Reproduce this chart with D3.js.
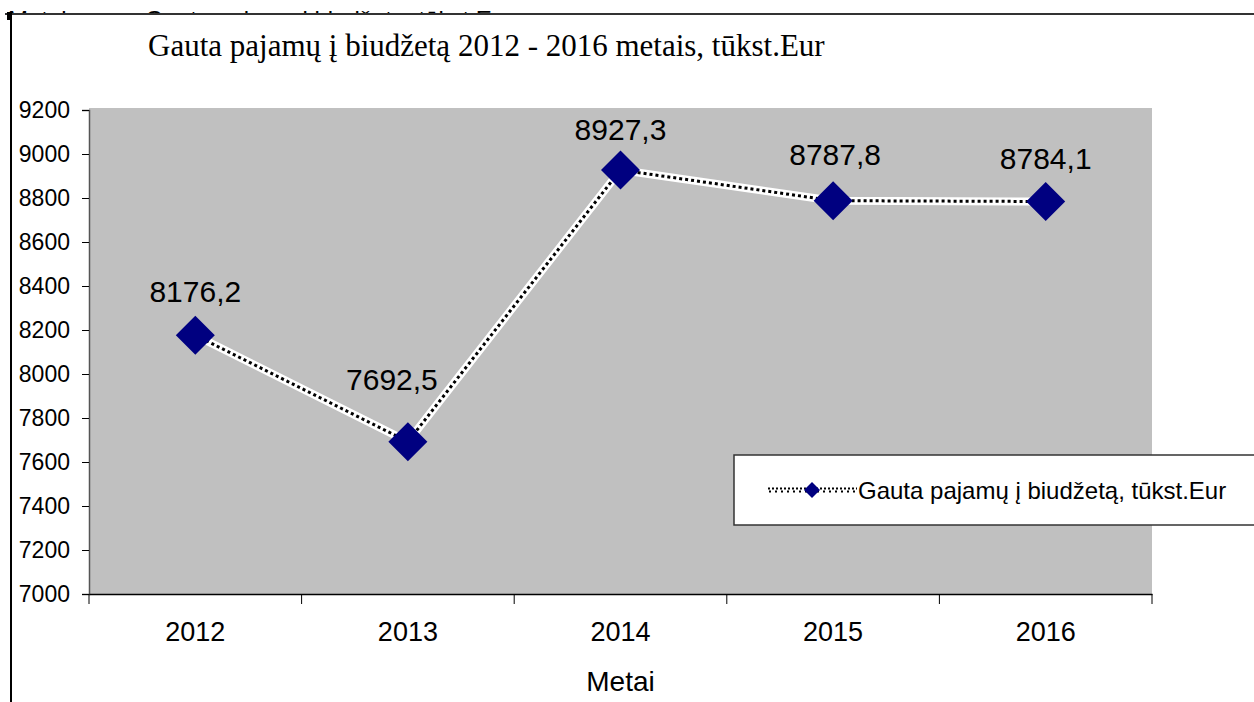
<!DOCTYPE html>
<html><head><meta charset="utf-8">
<script src="https://cdn.jsdelivr.net/npm/d3@7"></script>
<style>body{margin:0;background:#fff}svg{display:block}</style>
</head><body>
<svg id="c" width="1254" height="702"></svg>
<script>
const years = ["2012","2013","2014","2015","2016"];
const values = [8176.2, 7692.5, 8927.3, 8787.8, 8784.1];
const valueLabels = ["8176,2","7692,5","8927,3","8787,8","8784,1"];
const yTicks = [7000,7200,7400,7600,7800,8000,8200,8400,8600,8800,9000,9200];
const title = "Gauta pajamų į biudžetą 2012 - 2016 metais, tūkst.Eur";
const seriesName = "Gauta pajamų į biudžetą, tūkst.Eur";
const xTitle = "Metai";

const svg = d3.select("#c");
const W = 1254, H = 702;
const plot = {left: 89, right: 1152, top: 108, bottom: 594};
const sans = "Arial, Liberation Sans, sans-serif";

// clipped header text from page above
svg.append("clipPath").attr("id","hdr").append("rect").attr("x",0).attr("y",0).attr("width",W).attr("height",14);
const hdr = svg.append("g").attr("clip-path","url(#hdr)");
hdr.append("text").attr("x", 8).attr("y", 28).attr("font-family", sans).attr("font-size", 24).text("Metai");
hdr.append("text").attr("x", 145).attr("y", 28).attr("font-family", sans).attr("font-size", 24).text(seriesName);
// frame
svg.append("line").attr("x1",5).attr("x2",W).attr("y1",14).attr("y2",14).attr("stroke","#333").attr("stroke-width",2);
svg.append("line").attr("x1",11).attr("x2",11).attr("y1",12).attr("y2",H).attr("stroke","#000").attr("stroke-width",2);
svg.append("rect").attr("x",7).attr("y",12).attr("width",5).attr("height",8).attr("fill","#000");

const x = d3.scaleBand().domain(years).range([plot.left, plot.right]);
const y = d3.scaleLinear().domain([7000, 9200]).range([plot.bottom, plot.top + 2]);

// plot background
svg.append("rect").attr("x", plot.left).attr("y", plot.top).attr("width", plot.right - plot.left)
  .attr("height", plot.bottom - plot.top).attr("fill", "#c0c0c0");

// title
svg.append("text").attr("x", 148).attr("y", 56).attr("font-family","Liberation Serif, Times New Roman, serif")
  .attr("font-size", 31).attr("fill","#000").text(title);

// y axis
const yAxis = d3.axisLeft(y).tickValues(yTicks).tickSize(7).tickPadding(12).tickFormat(d3.format("d"));
const gy = svg.append("g").attr("transform", `translate(${plot.left},0)`).call(yAxis);
gy.attr("font-size", null).attr("font-family", null);
gy.selectAll("text").attr("font-family", sans).attr("font-size", 23).attr("fill","#000");
gy.select(".domain").attr("stroke","#555").attr("stroke-width",1.5);
gy.selectAll(".tick line").attr("stroke","#000");

// x axis
const xAxis = d3.axisBottom(x).tickSize(0).tickPadding(28);
const gx = svg.append("g").attr("transform", `translate(0,${plot.bottom})`).call(xAxis);
gx.attr("font-size", null).attr("font-family", null);
gx.selectAll("text").attr("font-family", sans).attr("font-size", 27).attr("fill","#000");
gx.select(".domain").attr("stroke","#000").attr("stroke-width",1.5);
const bounds = years.map(d => x(d)).concat([plot.right]);
gx.selectAll(".sep").data(bounds).enter().append("line").attr("class","sep")
  .attr("x1", d => d).attr("x2", d => d).attr("y1", 0).attr("y2", 10).attr("stroke","#000");

svg.append("text").attr("x", (plot.left+plot.right)/2).attr("y", 691).attr("text-anchor","middle")
  .attr("font-family", sans).attr("font-size", 28).text(xTitle);

// line
const pts = years.map((d,i) => [x(d) + x.bandwidth()/2, y(values[i])]);
const line = d3.line();
svg.append("path").attr("d", line(pts)).attr("fill","none").attr("stroke","#fff").attr("stroke-width",8);
svg.append("path").attr("d", line(pts)).attr("fill","none").attr("stroke","#000").attr("stroke-width",3)
  .attr("stroke-dasharray","3,3");

// markers
const diamond = (cx, cy, r) => `M${cx},${cy-r}L${cx+r},${cy}L${cx},${cy+r}L${cx-r},${cy}Z`;
svg.selectAll(".mk").data(pts).enter().append("path").attr("class","mk")
  .attr("d", d => diamond(d[0], d[1], 19.5)).attr("fill","#000080");

// value labels
const labelDx = [0, -16, 0, 2, 0];
const labelDy = [-33, -52, -30, -36, -32];
svg.selectAll(".vl").data(pts).enter().append("text").attr("class","vl")
  .attr("x", (d,i) => d[0] + labelDx[i]).attr("y", (d,i) => d[1] + labelDy[i])
  .attr("text-anchor","middle").attr("font-family", sans).attr("font-size", 30)
  .text((d,i) => valueLabels[i]);

// legend
svg.append("rect").attr("x", 734).attr("y", 455).attr("width", 530).attr("height", 70)
  .attr("fill","#fff").attr("stroke","#333").attr("stroke-width",1.5);
svg.append("line").attr("x1",768).attr("x2",857).attr("y1",488.5).attr("y2",488.5).attr("stroke","#000").attr("stroke-width",2)
  .attr("stroke-dasharray","2,2");
svg.append("line").attr("x1",769).attr("x2",857).attr("y1",491.5).attr("y2",491.5).attr("stroke","#000").attr("stroke-width",2)
  .attr("stroke-dasharray","2,4");
svg.append("path").attr("d", diamond(812, 490, 8)).attr("fill","#000080");
svg.append("text").attr("x", 858).attr("y", 499).attr("font-family", sans).attr("font-size", 24)
  .text(seriesName);
</script>
</body></html>
